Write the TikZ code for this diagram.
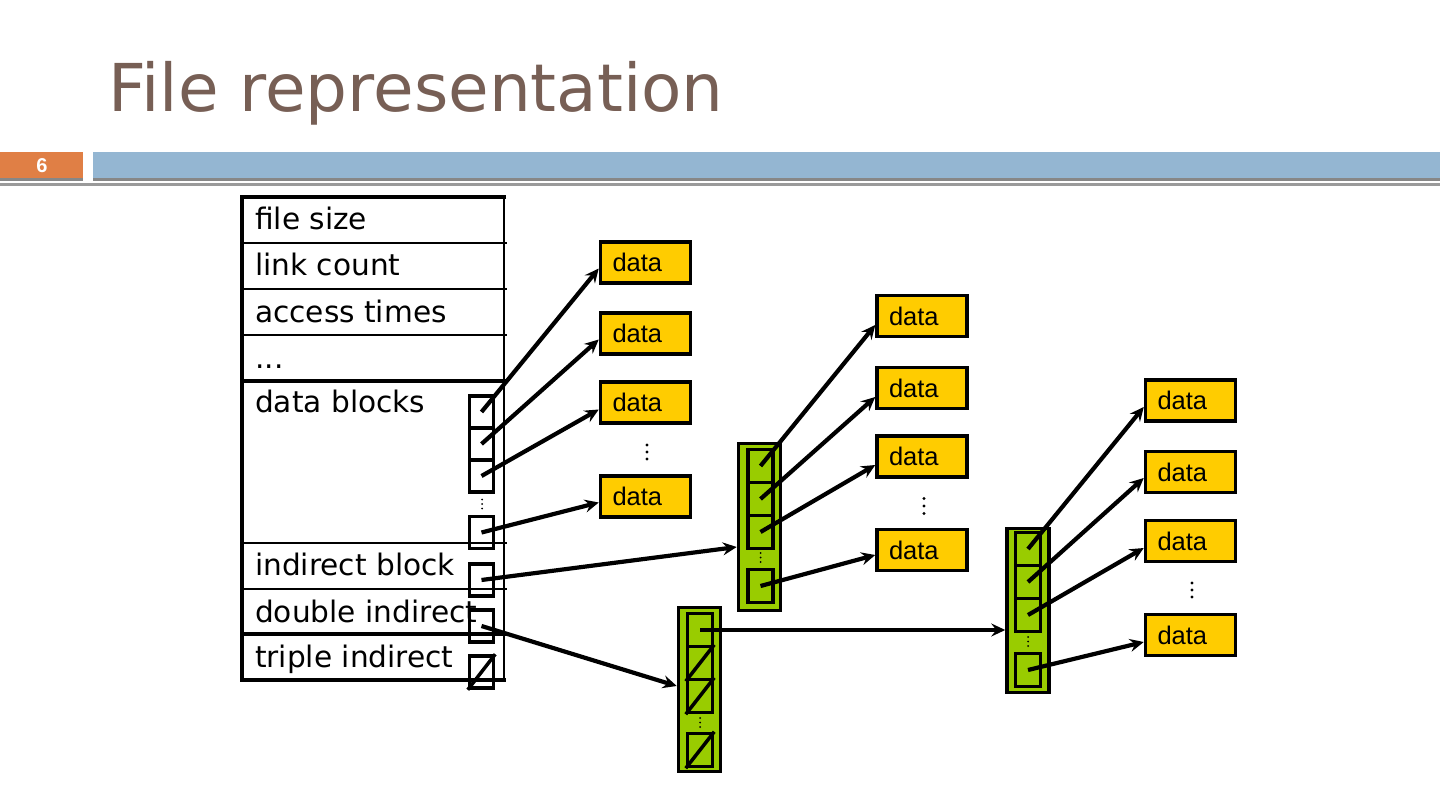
\documentclass[tikz,border=0pt]{standalone}
\usepackage{fontspec}
\usetikzlibrary{arrows.meta,calc}
\newfontfamily\djv{DejaVu Sans}
\newfontfamily\lib{Liberation Sans}
\definecolor{titlec}{HTML}{775F55}
\definecolor{orangec}{HTML}{E07F45}
\definecolor{bluec}{HTML}{94B6D2}
\definecolor{stripc}{HTML}{878787}
\definecolor{linec}{HTML}{9A9A9A}
\definecolor{yel}{HTML}{FFCC00}
\definecolor{grn}{HTML}{99CC00}
\newcommand\myvdots[4]{\foreach \k in {-1,0,1} {\fill (#1,{#2+\k*#3}) circle (#4);}}
\tikzset{
 tt/.style={anchor=base west, inner sep=0pt, font=\djv\fontsize{29.6}{32}\selectfont},
 ptr/.style={draw, line width=3.5pt, minimum width=24pt, minimum height=32pt, inner sep=0pt},
 dbox/.style={draw, line width=3.5pt, fill=yel, minimum height=41pt, text width=66pt, inner xsep=12pt, inner ysep=0pt, align=left, font=\lib\fontsize{25.5}{26}\selectfont},
 gcol/.style={draw, line width=3.5pt, fill=grn, minimum width=42pt, minimum height=164pt, inner sep=0pt},
 gbox/.style={draw, line width=3.5pt, fill=grn, minimum width=25pt, minimum height=33pt, inner sep=0pt},
 arr/.style={line width=4.2pt, -{Stealth[length=14pt,width=13pt,inset=5pt]}},
 thinl/.style={line width=2pt},
 thickl/.style={line width=3.5pt},
}
\begin{document}
\begin{tikzpicture}[x=1pt,y=-1pt]
\useasboundingbox (0,0) rectangle (1440,810);
% header
\fill[orangec] (0,152) rectangle (83,178);
\fill[stripc] (0,178) rectangle (83,181);
\fill[bluec] (93,152) rectangle (1440,178);
\fill[stripc] (93,178) rectangle (1440,181);
\fill[linec] (0,183) rectangle (1440,186);
\node[font=\lib\bfseries\fontsize{20}{20}\selectfont, text=white] (pg) at (42,166) {6};
\node[anchor=base west, inner sep=0pt, font=\djv\fontsize{66}{70}\selectfont, text=titlec] (title) at (108,112) {File representation};
% table
\draw[thinl] (504,197) -- (504,680);
\draw[thinl] (242,243) -- (507,243);
\draw[thinl] (242,289) -- (507,289);
\draw[thinl] (242,335) -- (507,335);
\draw[thinl] (242,543) -- (507,543);
\draw[thinl] (242,589) -- (507,589);
\draw[thickl] (242,381) -- (506,381);
\draw[thickl] (242,634) -- (506,634);
\draw[thickl] (506,197) -- (242,197) -- (242,680) -- (506,680);
\node[tt] (r1) at (255,230) {file size};
\node[tt] (r2) at (255,276) {link count};
\node[tt] (r3) at (255,322) {access times};
\node[tt] (r4) at (255,368) {...};
\node[tt] (r5) at (255,412) {data blocks};
\node[tt] (r6) at (255,575) {indirect block};
\node[tt] (r7) at (255,622) {double indirect};
\node[tt] (r8) at (255,667) {triple indirect};
% pointer boxes in inode
\node[ptr] (p1) at (481.5,412) {};
\node[ptr] (p2) at (481.5,444) {};
\node[ptr] (p3) at (481.5,476) {};
\myvdots{482}{504}{4.5}{1}
\node[ptr] (p4) at (481.5,532.5) {};
\node[ptr] (pi) at (481.5,580) {};
\node[ptr] (pd) at (481.5,626) {};
\node[ptr] (pt) at (481.5,672) {};
\draw[thickl] (pt.south west) -- (pt.north east);
% data column 1
\node[dbox] (d1) at (645.5,262.5) {data};
\node[dbox] (d2) at (645.5,333.5) {data};
\node[dbox] (d3) at (645.5,402.5) {data};
\myvdots{647}{452}{7}{1.6}
\node[dbox] (d4) at (645.5,496.5) {data};
% data column 2
\node[dbox] (e1) at (922,316) {data};
\node[dbox] (e2) at (922,388) {data};
\node[dbox] (e3) at (922,456.5) {data};
\myvdots{924}{506}{7.5}{1.6}
\node[dbox] (e4) at (922,550) {data};
% data column 3
\node[dbox] (f1) at (1190.5,400.5) {data};
\node[dbox] (f2) at (1190.5,472) {data};
\node[dbox] (f3) at (1190.5,541) {data};
\myvdots{1192}{590}{7}{1.6}
\node[dbox] (f4) at (1190.5,635) {data};
% green column 1 (single indirect)
\node[gcol, minimum height=167pt] (g1) at (759.5,527) {};
\node[gbox] (g1a) at (760.5,466) {};
\node[gbox] (g1b) at (760.5,499) {};
\node[gbox] (g1c) at (760.5,532) {};
\myvdots{760.5}{557.5}{4.5}{1}
\node[gbox] (g1d) at (760.5,586) {};
% green column 2 (double indirect)
\node[gcol] (g2) at (699.5,689.5) {};
\node[gbox] (g2a) at (700,630) {};
\node[gbox] (g2b) at (700,663) {};
\node[gbox] (g2c) at (700,696) {};
\myvdots{700}{722.5}{4.5}{1}
\node[gbox] (g2d) at (700,750) {};
\draw[thickl] (g2b.south west) -- (g2b.north east);
\draw[thickl] (g2c.south west) -- (g2c.north east);
\draw[thickl] (g2d.south west) -- (g2d.north east);
% green column 3
\node[gcol] (g3) at (1028,610.5) {};
\node[gbox] (g3a) at (1028,549) {};
\node[gbox] (g3b) at (1028,582) {};
\node[gbox] (g3c) at (1028,615) {};
\myvdots{1028}{641.5}{4.5}{1}
\node[gbox] (g3d) at (1028,670) {};
% arrows from inode
\draw[arr] (p1.center) -- ([yshift=-6pt]d1.west);
\draw[arr] (p2.center) -- ([yshift=-6pt]d2.west);
\draw[arr] (p3.center) -- ([yshift=-7pt]d3.west);
\draw[arr] (p4.center) -- ([yshift=-6pt]d4.west);
\draw[arr] (pi.center) -- ([yshift=-20pt]g1.west);
\draw[arr] (pd.center) -- ([yshift=3.5pt]g2.west);
% arrows from green column 1
\draw[arr] (g1a.center) -- ([yshift=-9pt]e1.west);
\draw[arr] (g1b.center) -- ([yshift=-9pt]e2.west);
\draw[arr] (g1c.center) -- ([yshift=-8.5pt]e3.west);
\draw[arr] (g1d.center) -- ([yshift=-5pt]e4.west);
% arrow from green column 2
\draw[arr] (g2a.center) -- (g2a.center -| g3.west);
% arrows from green column 3
\draw[arr] (g3a.center) -- ([yshift=-6.5pt]f1.west);
\draw[arr] (g3b.center) -- ([yshift=-6pt]f2.west);
\draw[arr] (g3c.center) -- ([yshift=-7pt]f3.west);
\draw[arr] (g3d.center) -- ([yshift=-7pt]f4.west);
\end{tikzpicture}
\end{document}
